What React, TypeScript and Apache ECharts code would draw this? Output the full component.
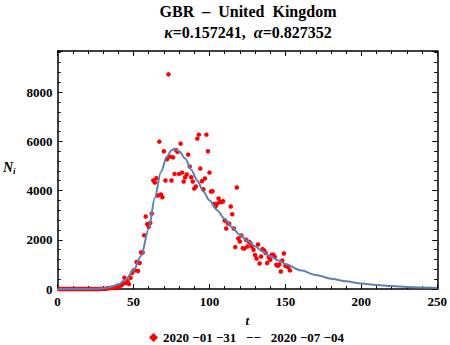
import React, { useEffect, useRef } from "react";
import * as echarts from "echarts";

// observed daily new cases (t = days since 2020-01-31)
const days = [
  1, 2, 3, 4, 5, 6, 7, 8, 9, 10, 11, 12, 13, 14, 15, 16, 17, 18, 19, 20,
  21, 22, 23, 24, 25, 26, 27, 28, 29, 30, 31, 32, 33, 34, 35, 36, 37, 38, 39, 40,
  41, 42, 43, 44, 45, 46, 47, 48, 49, 50, 51, 52, 53, 54, 55, 56, 57, 58, 59, 60,
  61, 62, 63, 64, 65, 66, 67, 68, 69, 70, 71, 72, 73, 74, 75, 76, 77, 78, 79, 80,
  81, 82, 83, 84, 85, 86, 87, 88, 89, 90, 91, 92, 93, 94, 95, 96, 97, 98, 99, 100,
  101, 102, 103, 104, 105, 106, 107, 108, 109, 110, 111, 112, 113, 114, 115, 116, 117, 118, 119, 120,
  121, 122, 123, 124, 125, 126, 127, 128, 129, 130, 131, 132, 133, 134, 135, 136, 137, 138, 139, 140,
  141, 142, 143, 144, 145, 146, 147, 148, 149, 150, 151, 152, 153,
];
const cases = [
  2, 0, 0, 0, 0, 1, 0, 0, 1, 4, 1, 0, 0, 0, 0, 0, 0, 0, 0, 0,
  0, 0, 0, 4, 0, 0, 2, 5, 3, 12, 5, 13, 35, 30, 48, 46, 68, 45, 62, 78,
  130, 150, 210, 455, 250, 320, 200, 455, 650, 755, 755, 1095, 730, 1054, 1485, 1485, 2180, 2945, 2635, 2515,
  2680, 3070, 4406, 4325, 4500, 3800, 5987, 3840, 3730, 5597, 4406, 5272, 8720, 5378, 4406, 5350, 4676, 5650, 5570, 4676,
  5906, 4730, 4365, 4541, 4650, 5460, 4973, 4541, 4365, 4080, 4163, 6108, 6271, 4892, 4380, 4054, 4487, 6271, 5597, 4730,
  3960, 3970, 3460, 3350, 3460, 3676, 3540, 3530, 3570, 2783, 2460, 2677, 2650, 3350, 3040, 2460, 1703, 4122, 2052, 1930,
  2174, 1660, 1647, 2000, 1728, 1918, 1864, 1728, 1594, 1379, 1241, 1810, 1038, 1322, 1622, 1566, 1460, 1054, 1298, 1188,
  1391, 1391, 1298, 985, 945, 1000, 714, 1160, 1444, 945, 918, 892, 755,
];

// fitted model curve, sampled
const fitT = [0, 10, 20, 25, 30, 35, 40, 45, 50, 55, 60, 64, 68, 72, 75, 77, 80, 84, 88, 92, 96, 100, 105, 110, 115, 120, 125, 130, 135, 140, 145, 150, 160, 170, 180, 190, 200, 210, 220, 230, 240, 250];
const fitN = [0, 0, 3, 8, 25, 80, 190, 400, 760, 1350, 2450, 3700, 4750, 5380, 5640, 5700, 5600, 5300, 4850, 4400, 3960, 3600, 3200, 2850, 2500, 2200, 1960, 1740, 1520, 1330, 1170, 1020, 760, 570, 420, 310, 225, 165, 120, 85, 60, 45];

const titleMain = "GBR\u00a0 –\u00a0 United\u00a0 Kingdom";
const kappa = "0.157241";
const alpha = "0.827352";
const legendLabel = "2020\u00a0−01\u00a0−31\u00a0\u00a0\u00a0−−\u00a0\u00a0\u00a02020\u00a0−07\u00a0−04";

const SERIF = "'Liberation Serif', 'DejaVu Serif', serif";

export default function App() {
  const ref = useRef<HTMLDivElement>(null);
  useEffect(() => {
    if (!ref.current) return;
    const chart = echarts.init(ref.current, null, { renderer: "svg" });
    const scatterData = days.map((d, i) => [d, cases[i]]);
    const fitData = fitT.map((t, i) => [t, fitN[i]]);
    const labelStyle = { fontFamily: SERIF, fontWeight: "bold" as const, fontSize: 13, color: "#000" };
    const frameLine = { show: true, onZero: false, lineStyle: { color: "#000", width: 1.5 } };
    const majorTick = { show: true, inside: true, length: 5, lineStyle: { color: "#000" } };
    const minor = { show: true, splitNumber: 5, length: 3, lineStyle: { color: "#000" } };
    chart.setOption({
      animation: false,
      backgroundColor: "#fff",
      title: [
        {
          text: titleMain,
          left: 248,
          top: 3,
          padding: 0,
          textAlign: "center",
          textStyle: { fontFamily: SERIF, fontWeight: "bold", fontSize: 16, color: "#000" },
        },
        {
          text: `{i|κ}=${kappa},\u00a0\u00a0{i|α}=${alpha}`,
          left: 248,
          top: 24,
          padding: 0,
          textAlign: "center",
          textStyle: {
            fontFamily: SERIF,
            fontWeight: "bold",
            fontSize: 16,
            color: "#000",
            rich: {
              i: { fontFamily: SERIF, fontWeight: "bold", fontStyle: "italic", fontSize: 16, color: "#000" },
            },
          },
        },
      ],
      legend: {
        top: 331,
        left: 149,
        padding: 0,
        itemWidth: 9,
        itemHeight: 9,
        itemGap: 6,
        data: [{ name: legendLabel, icon: "diamond" }],
        textStyle: { fontFamily: SERIF, fontWeight: "bold", fontSize: 13, color: "#000" },
      },
      grid: { left: 56, right: 10, top: 51, height: 238, containLabel: false },
      xAxis: [
        {
          type: "value",
          min: 0,
          max: 250,
          interval: 50,
          name: "t",
          nameLocation: "middle",
          nameGap: 25,
          nameTextStyle: { fontFamily: SERIF, fontWeight: "bold", fontStyle: "italic", fontSize: 13, color: "#000" },
          axisLine: frameLine,
          axisTick: majorTick,
          minorTick: minor,
          splitLine: { show: false },
          axisLabel: { ...labelStyle, margin: 6 },
        },
        {
          type: "value",
          position: "top",
          min: 0,
          max: 250,
          interval: 50,
          axisLine: frameLine,
          axisTick: majorTick,
          minorTick: minor,
          splitLine: { show: false },
          axisLabel: { show: false },
        },
      ],
      yAxis: [
        {
          type: "value",
          min: 0,
          max: 9670,
          interval: 2000,
          name: "{n|N}{s|i}",
          nameLocation: "middle",
          nameRotate: 0,
          nameGap: 42,
          nameTextStyle: {
            padding: [0, 0, 6, 0],
            rich: {
              n: { fontFamily: SERIF, fontStyle: "italic", fontWeight: "bold", fontSize: 14, color: "#000" },
              s: { fontFamily: SERIF, fontStyle: "italic", fontWeight: "bold", fontSize: 9, color: "#000", padding: [8, 0, 0, 0] },
            },
          },
          axisLine: frameLine,
          axisTick: majorTick,
          minorTick: minor,
          splitLine: { show: false },
          axisLabel: {
            ...labelStyle,
            margin: 5,
            showMaxLabel: false,
            formatter: (v: number) => (v % 2000 === 0 ? String(v) : ""),
          },
        },
        {
          type: "value",
          position: "right",
          min: 0,
          max: 9670,
          interval: 2000,
          axisLine: frameLine,
          axisTick: majorTick,
          minorTick: minor,
          splitLine: { show: false },
          axisLabel: { show: false },
        },
      ],
      series: [
        {
          name: legendLabel,
          type: "scatter",
          data: scatterData,
          symbol: "circle",
          symbolSize: 4.5,
          itemStyle: { color: "#ff0000", opacity: 1 },
          z: 2,
        },
        {
          name: "fit",
          type: "line",
          data: fitData,
          smooth: 0.3,
          smoothMonotone: "x",
          symbol: "none",
          lineStyle: { color: "#5E81B5", width: 2 },
          z: 3,
        },
      ],
    });
    return () => chart.dispose();
  }, []);
  return <div ref={ref} style={{ position: "absolute", left: 0, top: 0, width: 450, height: 345 }} />;
}
